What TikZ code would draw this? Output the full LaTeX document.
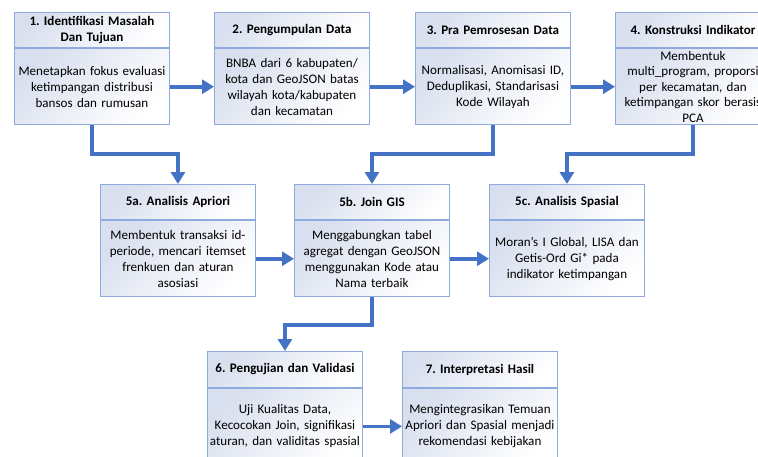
\documentclass[tikz,border=0pt]{standalone}
\usepackage{fontspec}
\setmainfont{Carlito}
\usetikzlibrary{arrows.meta,positioning}
\frenchspacing

\definecolor{boxline}{HTML}{8FAADC}
\definecolor{boxshade}{HTML}{D8DFEE}
\definecolor{flowblue}{HTML}{4472C4}

\begin{document}
\begin{tikzpicture}[x=0.75pt,y=0.75pt,
  font=\fontsize{9.8}{12}\selectfont,
  head/.style={draw=boxline,line width=0.7pt,top color=boxshade,bottom color=white,shading angle=45,
    text width=116.25pt,minimum height=26.5pt,inner sep=0pt,align=center,anchor=north west,
    font=\fontsize{9.8}{12}\selectfont\bfseries},
  body/.style={draw=boxline,line width=0.7pt,top color=boxshade,bottom color=white,shading angle=45,
    text width=116.25pt,minimum height=57pt,inner sep=0pt,align=center,below=0pt of #1},
  flow/.style={draw=flowblue,line width=2.8pt,-{Triangle[length=9pt,width=10.5pt]}}]

  \useasboundingbox (0,0) rectangle (758,-457);
  \clip (0,0) rectangle (758,-457);

  % baris atas
  \node[head] (h1) at (14,-12) {1. Identifikasi Masalah\\Dan Tujuan};
  \node[body=h1] (b1) {Menetapkan fokus evaluasi\\ketimpangan distribusi\\bansos dan rumusan};
  \node[head] (h2) at (214,-12) {2. Pengumpulan Data};
  \node[body=h2] (b2) {BNBA dari 6 kabupaten/\\kota dan GeoJSON batas\\wilayah kota/kabupaten\\dan kecamatan};
  \node[head] (h3) at (415,-12) {3. Pra Pemrosesan Data};
  \node[body=h3] (b3) {Normalisasi, Anomisasi ID,\\Deduplikasi, Standarisasi\\Kode Wilayah};
  \node[head] (h4) at (615,-12) {4. Konstruksi Indikator};
  \node[body=h4,font=\fontsize{9.8}{11.6}\selectfont] (b4) {Membentuk\\multi\_program, proporsi\\per kecamatan, dan\\ketimpangan skor berasis\\PCA};

  % baris tengah
  \node[head] (h5a) at (100,-184) {5a. Analisis Apriori};
  \node[body=h5a] (b5a) {Membentuk transaksi id-\\periode, mencari itemset\\frenkuen dan aturan\\asosiasi};
  \node[head] (h5b) at (294,-184) {5b. Join GIS};
  \node[body=h5b] (b5b) {Menggabungkan tabel\\agregat dengan GeoJSON\\menggunakan Kode atau\\Nama terbaik};
  \node[head] (h5c) at (489,-184) {5c. Analisis Spasial};
  \node[body=h5c] (b5c) {Moran's I Global, LISA dan\\Getis-Ord Gi* pada\\indikator ketimpangan};

  % baris bawah
  \node[head,minimum height=27pt] (h6) at (207,-351) {6. Pengujian dan Validasi};
  \node[body=h6] (b6) {Uji Kualitas Data,\\Kecocokan Join, signifikasi\\aturan, dan validitas spasial};
  \node[head,minimum height=27pt] (h7) at (402,-351) {7. Interpretasi Hasil};
  \node[body=h7] (b7) {Mengintegrasikan Temuan\\Apriori dan Spasial menjadi\\rekomendasi kebijakan};

  \draw[flow] (b1.east) -- (b2.west);
  \draw[flow] (b2.east) -- (b3.west);
  \draw[flow] (b3.east) -- (b4.west);
  \draw[flow] (b5a.east) -- (b5b.west);
  \draw[flow] (b5b.east) -- (b5c.west);
  \draw[flow] (b6.east) -- (b7.west);

  \draw[flow] (b1.south) -- ++(0,-29) -| (h5a.north);
  \draw[flow] (b3.south) -- ++(0,-29) -| (h5b.north);
  \draw[flow] (b4.south) -- ++(0,-29) -| (h5c.north);
  \draw[flow] (b5b.south) -- ++(0,-28) -| (h6.north);
\end{tikzpicture}
\end{document}
